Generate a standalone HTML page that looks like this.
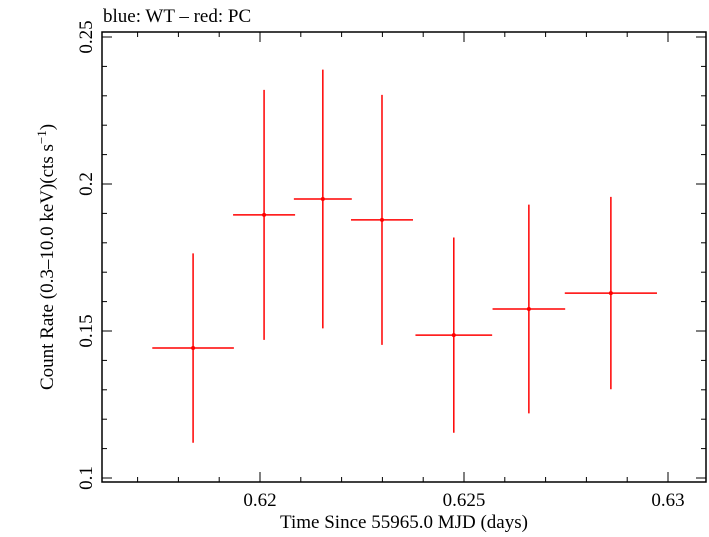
<!DOCTYPE html>
<html><head><meta charset="utf-8"><style>
body{margin:0;background:#fff;}
svg text{font-family:"Liberation Serif",serif;fill:#000;}
</style></head><body>
<svg id="c" width="709" height="532" xmlns="http://www.w3.org/2000/svg"></svg>
<script>
const times=[0.61836,0.62010,0.62154,0.62299,0.62475,0.62659,0.62860];
const halfWidths=[0.00100,0.00076,0.00071,0.00076,0.00094,0.00089,0.00113];
const rates=[0.1442,0.1895,0.1949,0.1878,0.1486,0.1575,0.1629];
const rateErrs=[0.0322,0.0425,0.0440,0.0425,0.0332,0.0355,0.0327];
const xTicks=[0.62,0.625,0.63];
const xTickLabels=["0.62","0.625","0.63"];
const yTicks=[0.1,0.15,0.2,0.25];
const yTickLabels=["0.1","0.15","0.2","0.25"];

const L=102,R=706,T=32,B=482;
const X=v=>260+(v-0.62)*40800;
const Y=v=>184-(v-0.2)*2940;
const svg=document.getElementById('c');
const NS="http://www.w3.org/2000/svg";
function mk(tag,attrs,name,parent){const e=document.createElementNS(NS,tag);for(const k in attrs)e.setAttribute(k,attrs[k]);


(parent||svg).appendChild(e);return e;}
mk('rect',{x:L,y:T,width:R-L,height:B-T,fill:'none',stroke:'#000','stroke-width':1.5},'plot-frame');
for(let i=616;i<=631;i++){const v=i/1000;const x=X(v);if(x<L||x>R)continue;
 const len=(i%5===0)?10:5;
 mk('line',{x1:x,x2:x,y1:B,y2:B-len,stroke:'#000'},'x-tick');
 mk('line',{x1:x,x2:x,y1:T,y2:T+len,stroke:'#000'},'x-tick-top');}
xTicks.forEach((v,i)=>{const t=mk('text',{x:X(v),y:506,'font-size':19,'text-anchor':'middle'},'x-tick-label');t.textContent=xTickLabels[i];});
for(let i=0;i<=16;i++){const v=0.1+i*0.01;const y=Y(v);if(y<T||y>B)continue;
 const len=(i%5===0)?10:5;
 mk('line',{x1:L,x2:L+len,y1:y,y2:y,stroke:'#000'},'y-tick');
 mk('line',{x1:R,x2:R-len,y1:y,y2:y,stroke:'#000'},'y-tick-right');}
yTicks.forEach((v,i)=>{const y=Y(v);const t=mk('text',{x:0,y:0,'font-size':19,'text-anchor':'middle',transform:`translate(92,${y}) rotate(-90)`},'y-tick-label');t.textContent=yTickLabels[i];});
const xt=mk('text',{x:404,y:528,'font-size':19,'text-anchor':'middle'},'x-axis-title');xt.textContent="Time Since 55965.0 MJD (days)";
const yt=mk('text',{x:0,y:0,'font-size':19,'text-anchor':'middle',transform:'translate(53,257) rotate(-90)'},'y-axis-title');
yt.innerHTML='Count Rate (0.3\u201310.0 keV)(cts s<tspan dy="-7" font-size="13">\u22121</tspan><tspan dy="7">)</tspan>';
const ti=mk('text',{x:103,y:22,'font-size':19},'chart-title');ti.textContent="blue: WT \u2013 red: PC";
const g=mk('g',{},'pc-series');
times.forEach((t,i)=>{
 mk('line',{x1:X(t-halfWidths[i]),x2:X(t+halfWidths[i]),y1:Y(rates[i]),y2:Y(rates[i]),stroke:'#f00','stroke-width':1.5},'x-error-bar',g);
 mk('line',{x1:X(t),x2:X(t),y1:Y(rates[i]-rateErrs[i]),y2:Y(rates[i]+rateErrs[i]),stroke:'#f00','stroke-width':1.5},'y-error-bar',g);
 mk('circle',{cx:X(t),cy:Y(rates[i]),r:2,fill:'#f00'},'data-point',g);
});
</script>
</body></html>
